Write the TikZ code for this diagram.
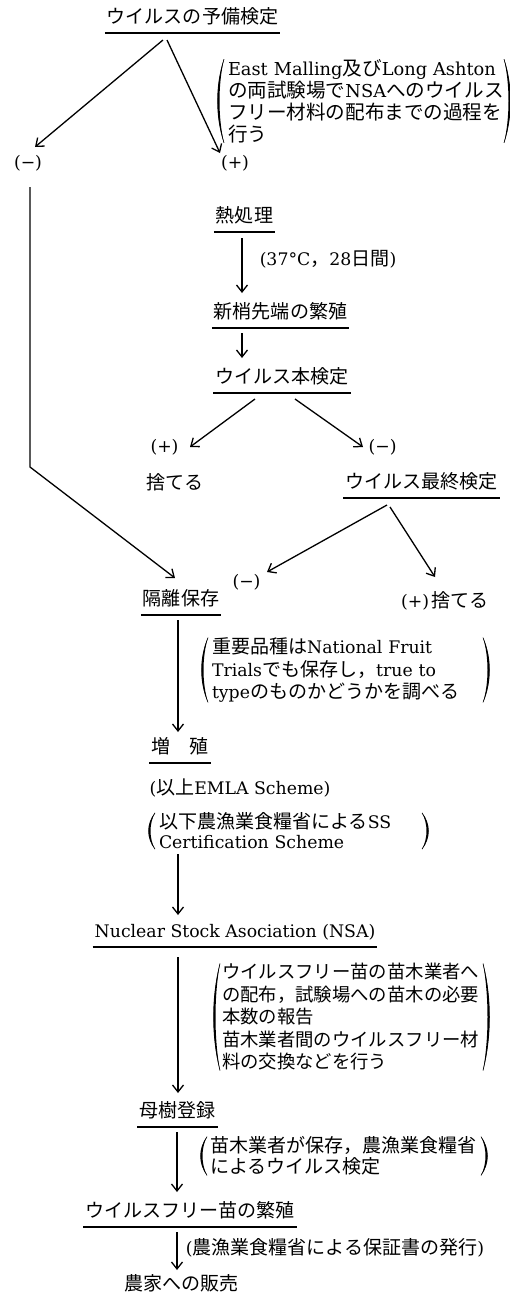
\documentclass[tikz,border=0pt]{standalone}
\usepackage{fontspec}
\setmainfont{DejaVu Serif}
\newfontfamily\jp[Scale=1.1]{Noto Sans CJK JP}
\usetikzlibrary{arrows.meta,calc}
\hyphenpenalty=10000
\exhyphenpenalty=10000
\newcommand\notebrackets[1]{%
  \fill[black] (#1.north west) .. controls ($(#1.north west)!0.3!(#1.south west)+(-9,0)$) and ($(#1.north west)!0.7!(#1.south west)+(-9,0)$) .. (#1.south west)
     .. controls ($(#1.north west)!0.7!(#1.south west)+(-6,0)$) and ($(#1.north west)!0.3!(#1.south west)+(-6,0)$) .. cycle;
  \fill[black] (#1.north east) .. controls ($(#1.north east)!0.3!(#1.south east)+(9,0)$) and ($(#1.north east)!0.7!(#1.south east)+(9,0)$) .. (#1.south east)
     .. controls ($(#1.north east)!0.7!(#1.south east)+(6,0)$) and ($(#1.north east)!0.3!(#1.south east)+(6,0)$) .. cycle;
  \draw[pline] (#1.north west) .. controls ($(#1.north west)!0.3!(#1.south west)+(-8,0)$) and ($(#1.north west)!0.7!(#1.south west)+(-8,0)$) .. (#1.south west);
  \draw[pline] (#1.north east) .. controls ($(#1.north east)!0.3!(#1.south east)+(8,0)$) and ($(#1.north east)!0.7!(#1.south east)+(8,0)$) .. (#1.south east);
}
\tikzset{
  bs/.style={inner sep=0pt, outer sep=0pt, anchor=base},
  lt/.style={bs, font=\fontsize{17.3}{22}\selectfont},
  jt/.style={bs, font=\fontsize{17.3}{22}\selectfont\jp},
  uline/.style={line width=1.6pt},
  ul/.style={inner xsep=2pt, text depth=10pt,
    append after command={(\tikzlastnode.south west) edge[uline] (\tikzlastnode.south east)}},
  arr/.style={line width=1.3pt, -{Straight Barb[length=7pt,width=11pt]}},
  pline/.style={line width=0.6pt},
  note/.style={inner xsep=4pt, inner ysep=0pt, outer sep=0pt, align=left, anchor=center},
}
\begin{document}
\begin{tikzpicture}[x=1pt,y=-1pt]
\useasboundingbox (0,0) rectangle (510,1302);

% main stages
\node[jt,ul] (title) at (192.5,23) {ウイルスの予備検定};
\node[lt] (mL) at (28,168) {(−)};
\node[lt] (pR) at (235,168) {(+)};
\node[jt,ul] (heat) at (244.5,222) {熱処理};
\node[lt] (heatnote) at (328,265) {(37°C{\jp ，}28{\jp 日間})};
\node[jt,ul] (shoot) at (280.5,318) {新梢先端の繁殖};
\node[jt,ul] (main) at (282,383) {ウイルス本検定};
\node[lt] (pM) at (164.5,452) {(+)};
\node[jt] (discard) at (175,489) {捨てる};
\node[lt] (mM) at (382.5,452) {(−)};
\node[jt,ul] (final) at (421.5,488) {ウイルス最終検定};
\node[lt] (mS) at (246.5,587) {(−)};
\node[jt,ul] (iso) at (181,605) {隔離保存};
\node[lt] (d2) at (445,607) {(+)\,{\jp 捨てる}};
\node[jt,ul] (zo) at (180,753) {増　殖};
\node[lt] (emla) at (240,794) {({\jp 以上}EMLA~Scheme)};
\node[lt,ul] (nsa) at (235,937) {Nuclear~Stock~Asociation~(NSA)};
\node[jt,ul] (boju) at (177.5,1117) {母樹登録};
\node[jt,ul] (vf) at (190,1217) {ウイルスフリー苗の繁殖};
\node[lt] (issue) at (335,1254) {({\jp 農漁業食糧省による保証書の発行})};
\node[jt] (sale) at (181.5,1290) {農家への販売};

% notes
\node[note, text width=272pt, font=\fontsize{17.8}{22}\selectfont] (n1) at (364,101)
  {\mbox{East~Malling{\jp 及び}Long~Ashton}\\\mbox{{\jp の両試験場で}NSA{\jp へのウイルス}}\\\mbox{\jp フリー材料の配布までの過程を}\\\mbox{\jp 行う}};
\notebrackets{n1}
\node[note, text width=267pt, font=\fontsize{17.3}{22.5}\selectfont] (n2) at (345.5,670)
  {\mbox{{\jp 重要品種は}National~Fruit}\\\mbox{Trials{\jp でも保存し，}true~to}\\\mbox{type{\jp のものかどうかを調べる}}};
\notebrackets{n2}
\node[note, text width=259pt, font=\fontsize{17.3}{20}\selectfont] (n3) at (288.5,831)
  {\mbox{{\jp 以下農漁業食糧省による}SS}\\\mbox{Certification~Scheme}};
\notebrackets{n3}
\node[note, inner xsep=2pt, text width=259pt, font=\fontsize{16.7}{22.5}\selectfont\jp] (n4) at (351.5,1017)
  {\mbox{ウイルスフリー苗の苗木業者へ}\\\mbox{の配布，試験場への苗木の必要}\\\mbox{本数の報告}\\\mbox{苗木業者間のウイルスフリー材}\\\mbox{料の交換などを行う}};
\notebrackets{n4}
\node[note, inner xsep=3pt, text width=268pt, font=\fontsize{17.3}{21}\selectfont\jp] (n5) at (344,1156)
  {\mbox{苗木業者が保存，農漁業食糧省}\\\mbox{によるウイルス検定}};
\notebrackets{n5}

% connectors
\draw[arr] ($(title.base)+(-29.5,17)$) -- ($(mL.base)+(7,-21)$);
\draw[arr] ($(title.base)+(-25.5,17)$) -- ($(pR.base)+(-15,-15)$);
\draw[arr] ($(mL.base)+(2,19)$) -- ($(mL.base)+(2,299)$) -- ($(iso.base)+(-6,-27)$);
\draw[arr] ($(heat.south)+(-2.5,6)$) -- ($(shoot.base)+(-38.5,-25)$);
\draw[arr] ($(shoot.south)+(-38.5,5)$) -- ($(main.base)+(-40,-25)$);
\draw[arr] ($(main.south)+(-27,6)$) -- ($(pM.base)+(25.5,-5)$);
\draw[arr] ($(main.south)+(13,6)$) -- ($(mM.base)+(-19.5,-5)$);
\draw[arr] ($(final.south)+(-34.5,7)$) -- ($(mS.base)+(20.5,-15)$);
\draw[arr] ($(final.south)+(-31.5,9)$) -- ($(d2.base)+(-10,-30)$);
\draw[arr] ($(iso.south)+(-3,5)$) -- ($(zo.base)+(-2,-21)$);
\draw[arr] ($(n3.south west)+(23,5)$) -- ($(nsa.base)+(-57,-22)$);
\draw[arr] ($(nsa.south)+(-57,10)$) -- ($(boju.base)+(0.5,-24)$);
\draw[arr] ($(boju.south)+(-0.5,5)$) -- ($(vf.base)+(-13,-25)$);
\draw[arr] ($(vf.south)+(-13,5)$) -- ($(sale.base)+(-4.5,-20)$);
\end{tikzpicture}
\end{document}
